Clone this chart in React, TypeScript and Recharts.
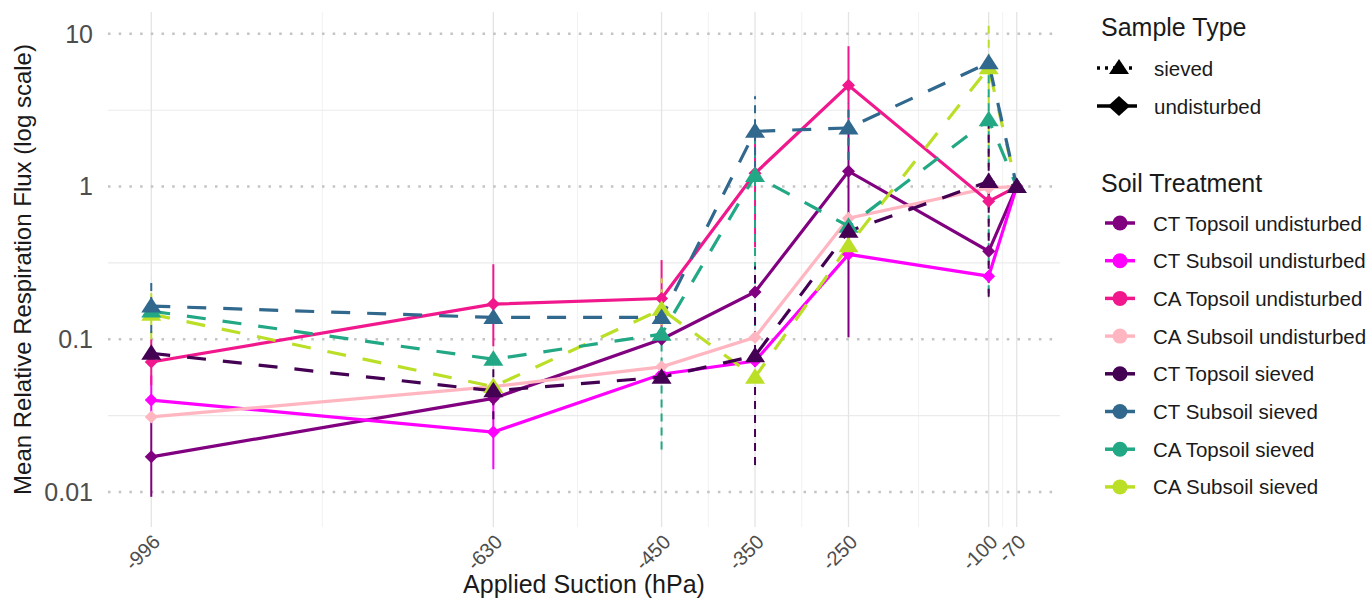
import React from 'react';
import { LineChart, Line, XAxis, YAxis, ReferenceLine, ErrorBar } from 'recharts';

const suction = [-996, -630, -450, -350, -250, -100, -70];
const suctionMinor = [-813, -540, -400, -300, -175, -85];
const fluxTicks = [0.01, 0.1, 1, 10];
const fluxMinor = [0.0316, 0.316, 3.16];

// mean relative flux per suction step
const ctTopUndist = [0.017, 0.041, 0.1, 0.204, 1.26, 0.377, 1];
const ctSubUndist = [0.04, 0.0247, 0.059, 0.072, 0.36, 0.259, 1];
const caTopUndist = [0.071, 0.17, 0.185, 1.22, 4.6, 0.8, 1];
const caSubUndist = [0.031, 0.049, 0.066, 0.103, 0.62, 0.98, 1];
const ctTopSiev = [0.081, 0.046, 0.0565, 0.078, 0.51, 1.08, 1];
const ctSubSiev = [0.165, 0.139, 0.139, 2.3, 2.42, 6.46, 1];
const caTopSiev = [0.153, 0.074, 0.108, 1.18, 0.55, 2.74, 1];
const caSubSiev = [0.146, 0.049, 0.157, 0.0565, 0.41, 6.0, 1];

// error bar ends, null where the bar is hidden behind the marker
const ctTopUndistLo = [0.0093, null, null, null, 0.103, null, null];
const ctTopUndistHi = [0.03, null, null, null, 2.4, null, null];
const ctSubUndistLo = [0.03, 0.0141, null, null, null, null, null];
const ctSubUndistHi = [0.058, 0.04, null, null, null, null, null];
const caTopUndistLo = [0.05, 0.09, 0.1, 0.4, 2.6, null, null];
const caTopUndistHi = [0.1, 0.31, 0.33, 2.2, 8.3, null, null];
const caSubUndistLo = [null, null, null, null, null, null, null];
const caSubUndistHi = [null, null, null, null, null, null, null];
const ctTopSievLo = [null, 0.03, null, 0.015, null, 0.19, null];
const ctTopSievHi = [null, 0.07, null, 0.3, null, 3, null];
const ctSubSievLo = [0.11, null, null, 1.3, 1.5, null, null];
const ctSubSievHi = [0.25, null, null, 3.9, 3.5, null, null];
const caTopSievLo = [null, null, 0.019, 0.08, null, 0.2, null];
const caTopSievHi = [null, null, 0.2, 2.0, null, 6, null];
const caSubSievLo = [0.1, null, 0.1, null, null, 1.5, null];
const caSubSievHi = [0.2, null, 0.25, null, null, 12, null];

const FONT = '"Liberation Sans", Arial, sans-serif';

// drawing order: undisturbed first, sieved on top (darkest last)
const series = [
  { key: 'ctTopUndist', name: 'CT Topsoil undisturbed', color: '#800080', sieved: false, values: ctTopUndist, lo: ctTopUndistLo, hi: ctTopUndistHi },
  { key: 'ctSubUndist', name: 'CT Subsoil undisturbed', color: '#FF00FF', sieved: false, values: ctSubUndist, lo: ctSubUndistLo, hi: ctSubUndistHi },
  { key: 'caSubUndist', name: 'CA Subsoil undisturbed', color: '#FFB6C1', sieved: false, values: caSubUndist, lo: caSubUndistLo, hi: caSubUndistHi },
  { key: 'caTopUndist', name: 'CA Topsoil undisturbed', color: '#F0188C', sieved: false, values: caTopUndist, lo: caTopUndistLo, hi: caTopUndistHi },
  { key: 'caSubSiev', name: 'CA Subsoil sieved', color: '#BBDF27', sieved: true, values: caSubSiev, lo: caSubSievLo, hi: caSubSievHi },
  { key: 'caTopSiev', name: 'CA Topsoil sieved', color: '#22A884', sieved: true, values: caTopSiev, lo: caTopSievLo, hi: caTopSievHi },
  { key: 'ctSubSiev', name: 'CT Subsoil sieved', color: '#31688E', sieved: true, values: ctSubSiev, lo: ctSubSievLo, hi: ctSubSievHi },
  { key: 'ctTopSiev', name: 'CT Topsoil sieved', color: '#440154', sieved: true, values: ctTopSiev, lo: ctTopSievLo, hi: ctTopSievHi },
];

// legend order as in the figure
const legendOrder = ['ctTopUndist', 'ctSubUndist', 'caTopUndist', 'caSubUndist', 'ctTopSiev', 'ctSubSiev', 'caTopSiev', 'caSubSiev'];

const chartData = suction.map((s, i) => {
  const row: any = { suction: s };
  series.forEach((sr) => {
    const v = sr.values[i];
    row[sr.key] = v;
    const lo = sr.lo[i];
    const hi = sr.hi[i];
    if (lo != null && hi != null) row[sr.key + 'Err'] = [v - lo, hi - v];
  });
  return row;
});

const makeDot = (color: string, sieved: boolean) => (p: any) => {
  const { cx, cy, index } = p;
  if (cx == null || cy == null) return <g key={index} />;
  if (sieved) {
    return <path key={index} d={`M${cx},${cy - 9}L${cx + 10},${cy + 6.5}L${cx - 10},${cy + 6.5}Z`} fill={color} />;
  }
  const r = 6.5;
  return <path key={index} d={`M${cx},${cy - r}L${cx + r},${cy}L${cx},${cy + r}L${cx - r},${cy}Z`} fill={color} />;
};

const XTick = (props: any) => {
  const { x, y, payload } = props;
  return (
    <g transform={`translate(${x},${y})`}>
      <text textAnchor="end" dy="0.72em" transform="rotate(-45)" fontSize={20} fill="#4d4d4d" fontFamily={FONT}>
        {payload.value}
      </text>
    </g>
  );
};

const LegendPanel = () => {
  const byKey: Record<string, any> = {};
  series.forEach((s) => (byKey[s.key] = s));
  return (
    <svg width={291} height={520} style={{ position: 'absolute', left: 1080, top: 0 }} fontFamily={FONT}>
      <text x={21} y={27} dominantBaseline="central" fontSize={25} fill="#1a1a1a">Sample Type</text>
      <line x1={17} x2={57} y1={68} y2={68} stroke="#000" strokeWidth={3.5} strokeDasharray="3 5" />
      <path d="M39,59L49,74L29,74Z" fill="#000" />
      <text x={74} y={68} dominantBaseline="central" fontSize={20.5} fill="#1a1a1a">sieved</text>
      <line x1={17} x2={57} y1={106} y2={106} stroke="#000" strokeWidth={3.5} />
      <path d="M39,96L50,106L39,116L28,106Z" fill="#000" />
      <text x={74} y={106} dominantBaseline="central" fontSize={20.5} fill="#1a1a1a">undisturbed</text>

      <text x={21} y={183} dominantBaseline="central" fontSize={25} fill="#1a1a1a">Soil Treatment</text>
      {legendOrder.map((k, i) => {
        const s = byKey[k];
        const cy = 223 + i * 37.7;
        return (
          <g key={k}>
            <line x1={25} x2={55} y1={cy} y2={cy} stroke={s.color} strokeWidth={3.5} />
            <circle cx={40} cy={cy} r={7.5} fill={s.color} />
            <text x={73} y={cy} dominantBaseline="central" fontSize={20.5} fill="#1a1a1a">{s.name}</text>
          </g>
        );
      })}
    </svg>
  );
};

export default function App() {
  return (
    <div style={{ position: 'absolute', left: 0, top: 0, width: 1371, height: 600, background: '#fff', fontFamily: FONT }}>
      <LineChart width={1371} height={600} data={chartData} margin={{ top: 12, right: 311, bottom: 0, left: 0 }}>
        {suctionMinor.map((v) => (
          <ReferenceLine key={'xm' + v} x={v} stroke="#f2f2f2" strokeWidth={1} />
        ))}
        {fluxMinor.map((v) => (
          <ReferenceLine key={'ym' + v} y={v} stroke="#ebebeb" strokeWidth={1.2} />
        ))}
        {suction.map((v) => (
          <ReferenceLine key={'xM' + v} x={v} stroke="#e4e4e4" strokeWidth={1.3} />
        ))}
        {fluxTicks.map((v) => (
          <ReferenceLine key={'yM' + v} y={v} stroke="#c4c4c4" strokeWidth={2.5} strokeDasharray="2.5 8.2" />
        ))}
        <XAxis
          dataKey="suction"
          type="number"
          domain={[-1042.3, -23.7]}
          ticks={suction}
          allowDataOverflow
          axisLine={false}
          tickLine={false}
          tickSize={0}
          tickMargin={6}
          height={73}
          tick={<XTick />}
          interval={0}
          label={{ value: 'Applied Suction (hPa)', position: 'insideBottom', offset: 7, style: { fontSize: 25, fill: '#1a1a1a', fontFamily: FONT } }}
        />
        <YAxis
          scale="log"
          type="number"
          domain={[0.0059, 13.9]}
          ticks={fluxTicks}
          allowDataOverflow
          axisLine={false}
          tickLine={false}
          tickSize={0}
          tickMargin={15}
          width={108}
          interval={0}
          tickFormatter={(v: number) => String(v)}
          tick={{ fontSize: 25, fill: '#4d4d4d', fontFamily: FONT }}
          label={{ value: 'Mean Relative Respiration Flux (log scale)', angle: -90, position: 'insideLeft', offset: 22, style: { fontSize: 24, fill: '#1a1a1a', fontFamily: FONT, textAnchor: 'middle' } }}
        />
        {series.map((s) => (
          <Line
            key={s.key}
            dataKey={s.key}
            name={s.name}
            type="linear"
            stroke={s.color}
            strokeWidth={3.2}
            strokeDasharray={s.sieved ? '19 17' : undefined}
            dot={makeDot(s.color, s.sieved)}
            activeDot={false}
            isAnimationActive={false}
          >
            <ErrorBar
              dataKey={s.key + 'Err'}
              direction="y"
              width={0}
              stroke={s.color}
              strokeWidth={2}
              strokeDasharray={s.sieved ? '8 6' : undefined}
              isAnimationActive={false}
            />
          </Line>
        ))}
      </LineChart>
      <LegendPanel />
    </div>
  );
}
